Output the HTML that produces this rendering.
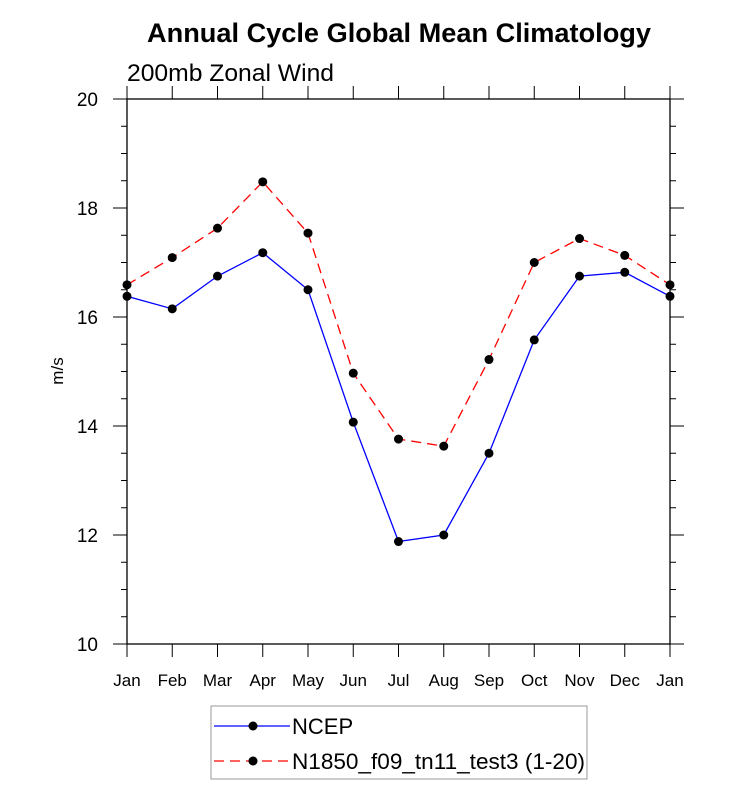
<!DOCTYPE html>
<html><head><meta charset="utf-8"><style>
body{margin:0;background:#fff;}
svg{display:block;font-family:"Liberation Sans",sans-serif;}
</style></head><body>
<svg id="chart" width="733" height="785">
<text x="399" y="42" text-anchor="middle" font-size="27" font-weight="bold" textLength="504" lengthAdjust="spacingAndGlyphs">Annual Cycle Global Mean Climatology</text>
<text x="127" y="81" font-size="24" textLength="207" lengthAdjust="spacingAndGlyphs">200mb Zonal Wind</text>
<text transform="translate(63,371) rotate(-90)" text-anchor="middle" font-size="17">m/s</text>
<g id="axes"></g>
<g id="series"></g>
<g>
<rect x="211" y="706" width="376" height="73" fill="#fff" stroke="#999" stroke-width="1"/>
<line x1="214" y1="726" x2="290" y2="726" stroke="#0000ff" stroke-width="1.3"/>
<circle cx="253" cy="726" r="4.5" fill="#000"/>
<text x="292" y="734" font-size="22">NCEP</text>
<line x1="214" y1="761" x2="290" y2="761" stroke="#ff0000" stroke-width="1.3" stroke-dasharray="10,6"/>
<circle cx="253" cy="761" r="4.5" fill="#000"/>
<text x="292" y="769" font-size="22" textLength="293" lengthAdjust="spacingAndGlyphs">N1850_f09_tn11_test3 (1-20)</text>
</g>
</svg>
<script>
const months = ["Jan","Feb","Mar","Apr","May","Jun","Jul","Aug","Sep","Oct","Nov","Dec","Jan"];
const ncep = [16.38,16.15,16.75,17.18,16.50,14.07,11.88,12.00,13.50,15.58,16.75,16.82,16.38];
const model = [16.59,17.09,17.63,18.48,17.54,14.97,13.76,13.63,15.22,17.00,17.44,17.13,16.59];
const yTicks = [10,12,14,16,18,20];
const NS="http://www.w3.org/2000/svg";
const L=127,R=670,T=99,B=644,yMin=10,yMax=20;
const xs=i=>L+(R-L)*i/(months.length-1);
const ys=v=>B-(B-T)*(v-yMin)/(yMax-yMin);
function mk(tag,attrs,parent){const e=document.createElementNS(NS,tag);for(const k in attrs)e.setAttribute(k,attrs[k]);parent.appendChild(e);return e;}
const ax=document.getElementById('axes');
const frame=mk('rect',{x:L,y:T,width:R-L,height:B-T,fill:'none',stroke:'#000','stroke-width':1.3},ax);


for(let v=yMin;v<=yMax+1e-9;v+=0.5){
  const major=Math.abs(v-Math.round(v/2)*2)<1e-9;
  const len=major?14:6;const y=ys(v);
  mk('line',{x1:L-len,y1:y,x2:L,y2:y,stroke:'#000','stroke-width':1},ax);
  mk('line',{x1:R,y1:y,x2:R+len,y2:y,stroke:'#000','stroke-width':1},ax);
}
yTicks.forEach(v=>{
  const t=mk('text',{x:L-29,y:ys(v)+7,'text-anchor':'end','font-size':19},ax);
  t.textContent=v;
  
  
});
months.forEach((m,i)=>{
  const x=xs(i);
  mk('line',{x1:x,y1:B,x2:x,y2:B+13,stroke:'#000','stroke-width':1},ax);
  mk('line',{x1:x,y1:T-13,x2:x,y2:T,stroke:'#000','stroke-width':1},ax);
  const t=mk('text',{x:x,y:B+42,'text-anchor':'middle','font-size':17},ax);
  t.textContent=m;
  
  
});
const sg=document.getElementById('series');
function draw(vals,color,dash,name){
  const pts=vals.map((v,i)=>xs(i)+','+ys(v)).join(' ');
  const pl=mk('polyline',{points:pts,fill:'none',stroke:color,'stroke-width':1.3},sg);
  if(dash)pl.setAttribute('stroke-dasharray',dash);
  
  
  vals.forEach((v,i)=>{
    const c=mk('circle',{cx:xs(i),cy:ys(v),r:4.5,fill:'#000'},sg);
    
    
  });
}
draw(ncep,'#0000ff',null,'ncep');
draw(model,'#ff0000','10,6','model');
</script>
</body></html>
